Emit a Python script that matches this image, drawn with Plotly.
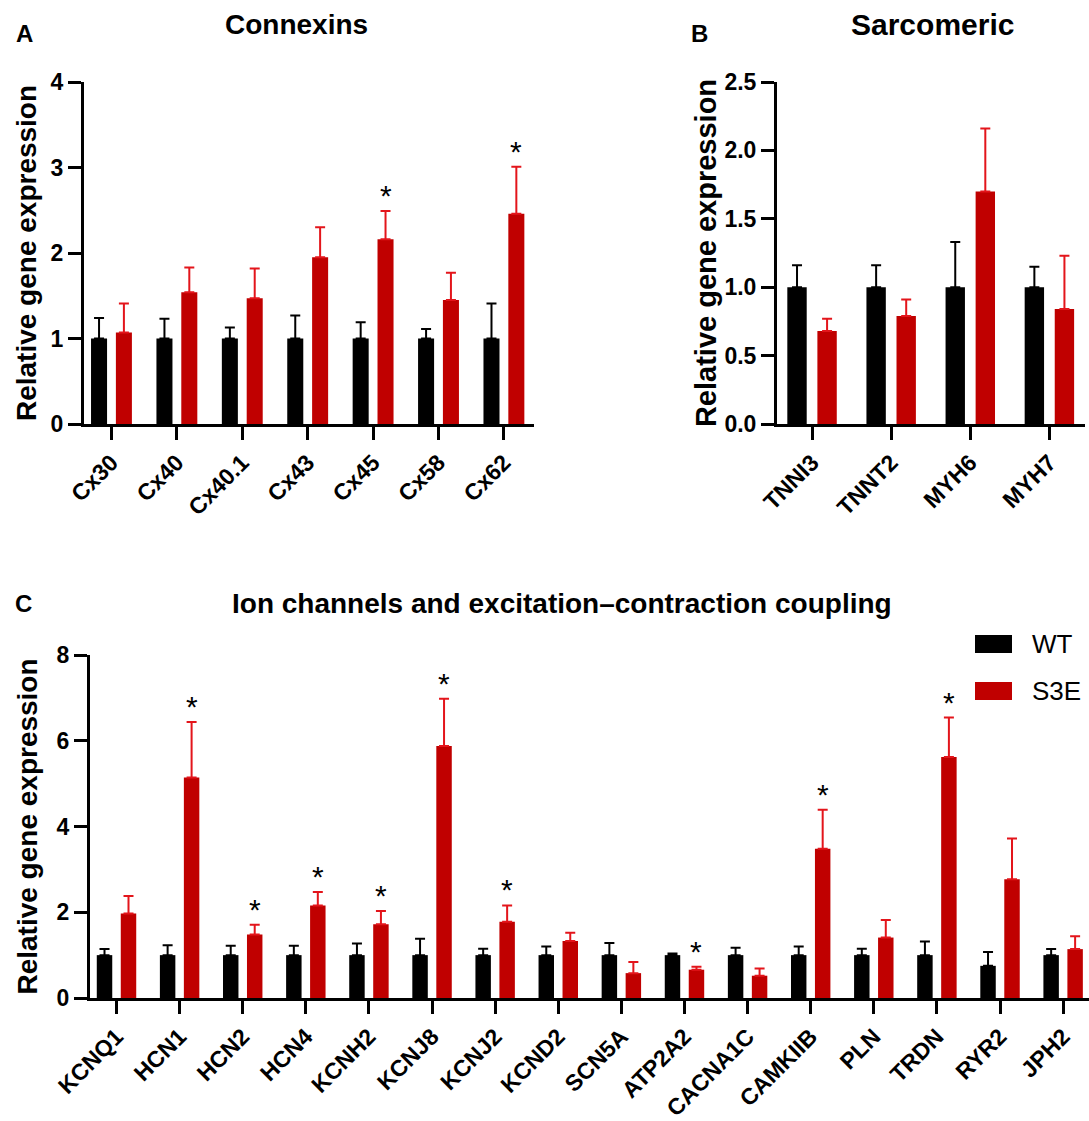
import plotly.graph_objects as go

# ---------------- data ----------------
cats_A = ["Cx30", "Cx40", "Cx40.1", "Cx43", "Cx45", "Cx58", "Cx62"]
wt_A = [1.0, 1.0, 1.0, 1.0, 1.0, 1.0, 1.0]
wt_A_err = [0.24, 0.23, 0.13, 0.27, 0.19, 0.11, 0.41]
s3e_A = [1.07, 1.54, 1.47, 1.95, 2.16, 1.45, 2.46]
s3e_A_err = [0.34, 0.29, 0.35, 0.35, 0.33, 0.32, 0.55]
sig_A = [False, False, False, False, True, False, True]

cats_B = ["TNNI3", "TNNT2", "MYH6", "MYH7"]
wt_B = [1.0, 1.0, 1.0, 1.0]
wt_B_err = [0.16, 0.16, 0.33, 0.15]
s3e_B = [0.68, 0.79, 1.70, 0.84]
s3e_B_err = [0.09, 0.12, 0.46, 0.39]
sig_B = [False, False, False, False]

cats_C = ["KCNQ1", "HCN1", "HCN2", "HCN4", "KCNH2", "KCNJ8", "KCNJ2", "KCND2",
          "SCN5A", "ATP2A2", "CACNA1C", "CAMKIIB", "PLN", "TRDN", "RYR2", "JPH2"]
wt_C = [1.0, 1.0, 1.0, 1.0, 1.0, 1.0, 1.0, 1.0, 1.0, 1.0, 1.0, 1.0, 1.0, 1.0, 0.75, 1.0]
wt_C_err = [0.14, 0.23, 0.22, 0.22, 0.27, 0.38, 0.15, 0.20,
            0.28, 0.04, 0.17, 0.20, 0.15, 0.32, 0.32, 0.14]
s3e_C = [1.97, 5.14, 1.48, 2.16, 1.72, 5.88, 1.78, 1.33,
         0.58, 0.66, 0.52, 3.48, 1.41, 5.62, 2.77, 1.14]
s3e_C_err = [0.41, 1.30, 0.23, 0.31, 0.31, 1.10, 0.38, 0.19,
             0.26, 0.07, 0.17, 0.91, 0.41, 0.92, 0.95, 0.30]
sig_C = [False, True, True, True, True, True, True, False,
         False, True, False, True, False, True, False, False]

series_names = ["WT", "S3E"]

# ---------------- style ----------------
FONT = "Arial, Liberation Sans, Helvetica, sans-serif"
BLACK = "#000000"
RED = "#C00000"
RED_ERR = "#E3151B"
W, H = 1089, 1121
BAR_W = 0.245
OFF = 0.19

fig = go.Figure()

panels = [
    dict(cats=cats_A, wt=wt_A, wte=wt_A_err, s=s3e_A, se=s3e_A_err, sig=sig_A, xa="x", ya="y"),
    dict(cats=cats_B, wt=wt_B, wte=wt_B_err, s=s3e_B, se=s3e_B_err, sig=sig_B, xa="x2", ya="y2"),
    dict(cats=cats_C, wt=wt_C, wte=wt_C_err, s=s3e_C, se=s3e_C_err, sig=sig_C, xa="x3", ya="y3"),
]

annotations = []
for p in panels:
    n = len(p["cats"])
    fig.add_trace(go.Bar(
        x=p["cats"], y=p["wt"], name=series_names[0], xaxis=p["xa"], yaxis=p["ya"],
        width=BAR_W, offset=-OFF - BAR_W / 2,
        marker=dict(color=BLACK, line=dict(width=0)),
        error_y=dict(type="data", symmetric=False, array=p["wte"], arrayminus=[0] * n,
                     color=BLACK, thickness=2, width=5),
        showlegend=False,
    ))
    fig.add_trace(go.Bar(
        x=p["cats"], y=p["s"], name=series_names[1], xaxis=p["xa"], yaxis=p["ya"],
        width=BAR_W, offset=OFF - BAR_W / 2,
        marker=dict(color=RED, line=dict(width=0)),
        error_y=dict(type="data", symmetric=False, array=p["se"], arrayminus=[0] * n,
                     color=RED_ERR, thickness=2, width=5),
        showlegend=False,
    ))
    for i, flag in enumerate(p["sig"]):
        if flag:
            annotations.append(dict(
                x=i + OFF, y=p["s"][i] + p["se"][i], xref=p["xa"], yref=p["ya"],
                text="*", showarrow=False, yanchor="bottom", yshift=-3,
                font=dict(family=FONT, size=30, color=BLACK),
            ))


def px_x(v):
    return v / W


def px_y(v):
    return 1 - v / H


axis_common = dict(showline=True, linewidth=3, linecolor=BLACK, ticks="outside",
                   ticklen=13, tickwidth=3, tickcolor=BLACK, showgrid=False,
                   zeroline=False, mirror=False)

ytickfont = dict(family=FONT, size=23, color=BLACK, weight="bold")
xtickfont = dict(family=FONT, size=23, color=BLACK, weight="bold")
titlefont = dict(family=FONT, size=28, color=BLACK, weight="bold")

fig.update_layout(
    xaxis=dict(axis_common, domain=[px_x(84), px_x(534)], range=[-0.42, 6.46],
               anchor="y", tickangle=-45, tickfont=xtickfont),
    yaxis=dict(axis_common, domain=[px_y(424), px_y(82)], range=[0, 4], dtick=1,
               anchor="x", tickfont=ytickfont,
               title=dict(text="Relative gene expression", font=titlefont, standoff=6)),
    xaxis2=dict(axis_common, domain=[px_x(777), px_x(1085)], range=[-0.443, 3.45],
                anchor="y2", tickangle=-45, tickfont=xtickfont),
    yaxis2=dict(axis_common, domain=[px_y(424), px_y(82)], range=[0, 2.5], dtick=0.5,
                tickformat=".1f", anchor="x2", tickfont=ytickfont,
                title=dict(text="Relative gene expression",
                           font=dict(titlefont, size=29), standoff=0)),
    xaxis3=dict(axis_common, domain=[px_x(90), 1.0], range=[-0.42, 15.41],
                anchor="y3", tickangle=-45, tickfont=xtickfont),
    yaxis3=dict(axis_common, domain=[px_y(998), px_y(655)], range=[0, 8], dtick=2,
                anchor="x3", tickfont=ytickfont,
                title=dict(text="Relative gene expression", font=titlefont, standoff=11)),
    width=W, height=H,
    margin=dict(l=0, r=0, t=0, b=0, autoexpand=False),
    paper_bgcolor="white", plot_bgcolor="white",
    showlegend=False,
    font=dict(family=FONT, color=BLACK),
)

# panel letters and titles
letters = [("A", 24, 33), ("B", 699, 33), ("C", 23, 603)]
for t, xx, yy in letters:
    annotations.append(dict(text=t, x=px_x(xx), y=px_y(yy), xref="paper", yref="paper",
                            showarrow=False, xanchor="center", yanchor="middle",
                            font=dict(family=FONT, size=24, color=BLACK, weight="bold")))

titles = [("Connexins", 296, 25, 28), ("Sarcomeric", 932, 25, 30),
          ("Ion channels and excitation\u2013contraction coupling", 562, 603, 28)]
for t, xx, yy, sz in titles:
    annotations.append(dict(text=t, x=px_x(xx), y=px_y(yy), xref="paper", yref="paper",
                            showarrow=False, xanchor="center", yanchor="middle",
                            font=dict(family=FONT, size=sz, color=BLACK, weight="bold")))

# legend (drawn manually to match large swatches)
legend_items = [(series_names[0], BLACK, 644), (series_names[1], RED, 691)]
shapes = []
for name, col, yc in legend_items:
    shapes.append(dict(type="rect", xref="paper", yref="paper",
                       x0=px_x(975), x1=px_x(1012), y0=px_y(yc + 9), y1=px_y(yc - 9),
                       fillcolor=col, line=dict(width=0)))
    annotations.append(dict(text=name, x=px_x(1030), y=px_y(yc), xref="paper", yref="paper",
                            showarrow=False, xanchor="left", yanchor="middle",
                            font=dict(family=FONT, size=26, color=BLACK)))

fig.update_layout(annotations=annotations, shapes=shapes)

fig.write_html(
    "out.html",
    config={"displayModeBar": False},
    post_script="document.body.style.margin='0';document.body.style.overflow='hidden';"
                "document.documentElement.style.overflow='hidden';",
)
